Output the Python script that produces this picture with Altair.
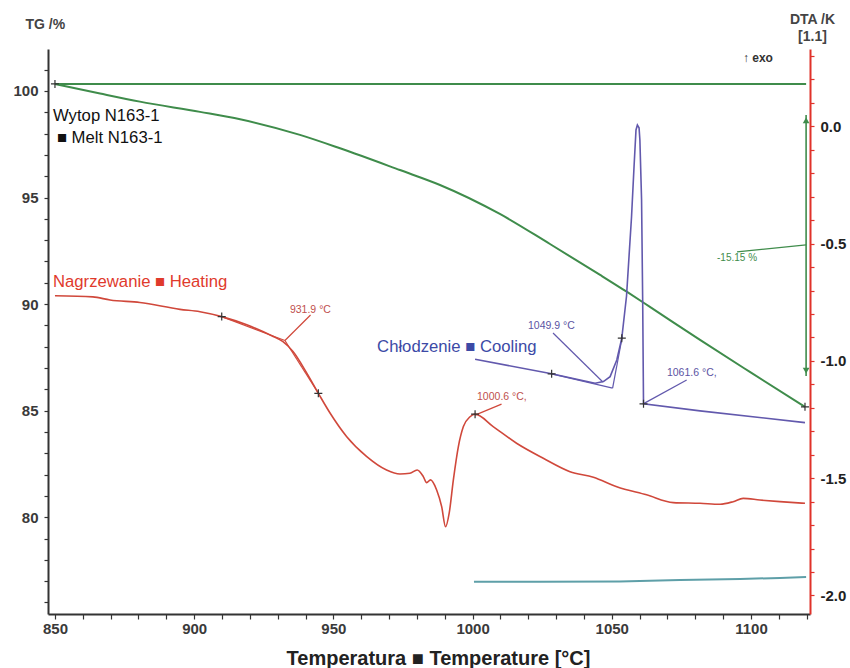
import altair as alt
import pandas as pd

# ---------------- data ----------------
# TG curve (left axis, %)
tg_T = [850.0, 866.2, 880.5, 902.1, 916.5, 938.0, 952.4, 973.9, 988.3, 1009.8,
        1027.8, 1045.8, 1055.5, 1063.7, 1081.7, 1099.6, 1119.4]
tg_val = [100.33, 99.88, 99.50, 99.02, 98.67, 97.94, 97.31, 96.29, 95.59, 94.23,
          92.82, 91.37, 90.57, 89.87, 88.32, 86.82, 85.18]

# DTA heating curve (right axis, K)
heat_T = [850.0, 863.6, 869.8, 880.5, 894.9, 902.1, 909.9, 918.9, 928.4, 931.9,
          935.5, 940.4, 944.6, 948.8, 954.8, 962.0, 969.1, 973.9, 977.5, 980.1,
          982.3, 983.5, 984.9, 987.1, 988.9, 990.3, 991.6, 993.1, 994.9, 996.7,
          999.1, 1000.9, 1007.4, 1015.8, 1025.4, 1035.0, 1043.4, 1051.8, 1062.5,
          1072.1, 1081.7, 1088.9, 1093.6, 1097.2, 1103.2, 1110.4, 1119.4]
heat_dta = [-0.722, -0.727, -0.740, -0.751, -0.780, -0.790, -0.811, -0.846, -0.896, -0.918,
            -0.960, -1.051, -1.138, -1.222, -1.323, -1.408, -1.465, -1.482, -1.479, -1.465,
            -1.493, -1.519, -1.507, -1.550, -1.621, -1.707, -1.649, -1.507, -1.365, -1.280,
            -1.238, -1.227, -1.280, -1.351, -1.415, -1.472, -1.496, -1.536, -1.571,
            -1.604, -1.607, -1.611, -1.600, -1.586, -1.593, -1.600, -1.607]

# DTA cooling curve
cool_T = [1000.9, 1028.4, 1044.0, 1047.0, 1049.4, 1051.8, 1053.6, 1055.3, 1057.1,
          1058.0, 1058.7, 1059.2, 1059.8, 1060.1, 1060.7, 1061.1, 1061.4, 1081.7, 1119.4]
cool_dta = [-0.993, -1.055, -1.095, -1.088, -1.067, -0.996, -0.903, -0.723, -0.385,
            -0.171, -0.015, 0.006, -0.006, -0.058, -0.313, -0.740, -1.183, -1.213, -1.263]

# baseline curve
base_T = [1000.5, 1024.2, 1052.9, 1074.5, 1096.1, 1110.4, 1119.8]
base_dta = [-1.942, -1.942, -1.940, -1.934, -1.930, -1.925, -1.921]

# tick values
x_ticks = list(range(850, 1121, 10))
tg_ticks = list(range(76, 102))
dta_ticks = [round(-2.0 + 0.1 * k, 1) for k in range(24)]

# annotations (temperature, value)
tg_ref_level = 100.33
tg_arrow_T = 1119.8
tg_arrow_top = 98.87
tg_arrow_bottom = 86.63
tg_loss_label = "-15.15 %"

plus_heat = [(909.9, -0.811), (944.6, -1.138), (1000.9, -1.227)]
plus_cool = [(1028.4, -1.055), (1053.6, -0.903), (1061.4, -1.183)]
plus_tg = [(850.0, 100.33), (1119.4, 85.18)]

heat_segments = [  # T1, v1, T2, v2
    (909.9, -0.811, 932.6, -0.913),
    (932.6, -0.913, 944.6, -1.138),
    (941.8, -0.804, 932.6, -0.913),
    (1010.4, -1.184, 1000.9, -1.231),
]
cool_segments = [
    (1028.4, -1.055, 1050.3, -1.116),
    (1050.3, -1.116, 1053.8, -0.895),
    (1028.9, -0.881, 1046.8, -1.090),
    (1076.9, -1.081, 1061.6, -1.181),
]
heat_labels = [(934.4, -0.795, "931.9 °C"), (1001.6, -1.166, "1000.6 °C,")]
cool_labels = [(1019.9, -0.864, "1049.9 °C"), (1069.8, -1.064, "1061.6 °C,")]

# ---------------- styling ----------------
GREEN = "#3f8c4b"
RED = "#d0483b"
RED_AXIS = "#e0322a"
RED_TXT = "#e03a2c"
BLUE = "#6259ad"
BLUE_TXT = "#3c4aa6"
TEAL = "#5e9fa8"
DARK = "#333333"
SANS = "Liberation Sans"

xs = alt.Scale(domain=[847.5, 1121.2], nice=False, zero=False)
ys_tg = alt.Scale(domain=[75.46, 101.97], nice=False, zero=False)
ys_dta = alt.Scale(domain=[-2.079, 0.330], nice=False, zero=False)

x_axis = alt.Axis(
    values=x_ticks, format="d",
    labelExpr="datum.value % 50 == 0 ? datum.label : ''",
    labelOverlap=False, labelFlush=False, grid=False,
    tickSize=5, tickColor=DARK, tickWidth=1.2,
    domainColor=DARK, domainWidth=2,
    labelFont=SANS, labelFontSize=15, labelFontWeight="bold", labelColor="#3a3a3a",
    labelPadding=2,
    title="Temperatura ■ Temperature [°C]",
    titleFont=SANS, titleFontSize=20, titleFontWeight="bold", titleColor="#222222",
    titleX=390, titleY=50, titleAlign="center", titleBaseline="alphabetic",
)
tg_axis = alt.Axis(
    orient="left", values=tg_ticks, format="d",
    labelExpr="datum.value % 5 == 0 ? datum.label : ''",
    labelOverlap=False, labelFlush=False, grid=False,
    tickSize=4, tickColor=DARK, tickWidth=1.2,
    domainColor=DARK, domainWidth=2,
    labelFont=SANS, labelFontSize=15, labelFontWeight="bold", labelColor="#3a3a3a",
    labelPadding=6,
    title="TG /%", titleFont=SANS, titleFontSize=14, titleFontWeight="bold",
    titleColor="#444444", titleAngle=0, titleX=-23, titleY=-21,
    titleAlign="left", titleBaseline="alphabetic",
)
dta_axis = alt.Axis(
    orient="right", values=dta_ticks,
    labelExpr="abs(datum.value*2 - round(datum.value*2)) < 0.01 ? replace(format(datum.value, '.1f'), '\u2212', '-') : ''",
    labelOverlap=False, labelFlush=False, grid=False,
    tickSize=4, tickColor=RED_AXIS, tickWidth=1.2,
    domainColor=RED_AXIS, domainWidth=2,
    labelFont=SANS, labelFontSize=15, labelFontWeight="bold", labelColor="#222222",
    labelPadding=6,
    title=["DTA /K", "[1.1]"], titleFont=SANS, titleFontSize=14, titleFontWeight="bold",
    titleColor="#444444", titleAngle=0, titleX=2, titleY=-37,
    titleAlign="center", titleBaseline="top", titleLineHeight=17,
)


def X():
    # identical x axis on every layer so the shared axis merges cleanly
    return alt.X("T:Q", scale=xs, axis=x_axis)


def line(T, V, color, yscale, width=1.6, yaxis=None, interp="linear"):
    df = pd.DataFrame({"T": T, "v": V, "i": list(range(len(T)))})
    return alt.Chart(df).mark_line(color=color, strokeWidth=width, interpolate=interp).encode(
        x=X(),
        y=alt.Y("v:Q", scale=yscale, axis=yaxis),
        order="i:Q",
    )


def segs(rows, color, yscale, width=1.2):
    df = pd.DataFrame(rows, columns=["T", "v", "T2", "v2"])
    return alt.Chart(df).mark_rule(color=color, strokeWidth=width).encode(
        x=X(), x2="T2:Q",
        y=alt.Y("v:Q", scale=yscale, axis=None), y2="v2:Q",
    )


def pluses(rows, yscale):
    df = pd.DataFrame(rows, columns=["T", "v"])
    return alt.Chart(df).mark_point(
        shape="M-1,0L1,0M0,-1L0,1", size=64, filled=False, color=DARK, strokeWidth=1.2, opacity=1
    ).encode(x=X(), y=alt.Y("v:Q", scale=yscale, axis=None))


def texts(rows, color, yscale, size, font=SANS, weight="normal", align="left",
          baseline="alphabetic", opacity=1.0):
    df = pd.DataFrame(rows, columns=["T", "v", "text"])
    return alt.Chart(df).mark_text(
        align=align, baseline=baseline, font=font, fontSize=size, fontWeight=weight,
        color=color, opacity=opacity,
    ).encode(x=X(), y=alt.Y("v:Q", scale=yscale, axis=None), text="text:N")


# ---------------- TG marks ----------------
tg_curve = line(tg_T, tg_val, GREEN, ys_tg, width=2, yaxis=tg_axis, interp="monotone")
tg_hline = line([tg_T[0], tg_arrow_T], [tg_ref_level, tg_ref_level], GREEN, ys_tg, width=2)
tg_arrow = line([tg_arrow_T, tg_arrow_T], [tg_arrow_top, tg_arrow_bottom], GREEN, ys_tg, width=1.6)
heads = pd.DataFrame({"T": [tg_arrow_T, tg_arrow_T], "v": [tg_arrow_top - 0.25, tg_arrow_bottom + 0.25],
                      "s": ["triangle-up", "triangle-down"]})
tg_heads = alt.Chart(heads).mark_point(filled=True, size=45, color=GREEN, opacity=1).encode(
    x=X(), y=alt.Y("v:Q", scale=ys_tg, axis=None),
    shape=alt.Shape("s:N", scale=None),
)
tg_leader = segs([(tg_arrow_T, 92.78, 1095.0, 92.45)], GREEN, ys_tg, width=1.4)
tg_label = texts([(1095.0, 92.17, tg_loss_label)], GREEN, ys_tg, 10, align="center", baseline="middle")
tg_plus = pluses(plus_tg, ys_tg)

legend_black = texts([(849.3, 98.59, "Wytop N163-1"), (850.7, 97.56, "■ Melt N163-1")],
                     "#111111", ys_tg, 16.7)
legend_red = texts([(849.3, 90.81, "Nagrzewanie ■ Heating")], RED_TXT, ys_tg, 16.7)
legend_blue = texts([(965.7, 87.76, "Chłodzenie ■ Cooling")], BLUE_TXT, ys_tg, 16.7)
exo = texts([(1097.1, 101.36, "↑ exo")], DARK, ys_tg, 12, weight="bold")

# ---------------- DTA marks ----------------
heat = line(heat_T, heat_dta, RED, ys_dta, width=1.6, yaxis=dta_axis, interp="monotone")
cool = line(cool_T, cool_dta, BLUE, ys_dta, width=1.6)
base = line(base_T, base_dta, TEAL, ys_dta, width=2)
heat_rules = segs(heat_segments, RED, ys_dta)
cool_rules = segs(cool_segments, BLUE, ys_dta)
heat_plus = pluses(plus_heat, ys_dta)
cool_plus = pluses(plus_cool, ys_dta)
heat_txt = texts(heat_labels, "#c0504d", ys_dta, 10.5)
cool_txt = texts(cool_labels, "#5b54a3", ys_dta, 10.5)

chart = (
    alt.layer(
        tg_curve, heat, tg_hline, tg_arrow, tg_heads, tg_leader, tg_label, tg_plus,
        legend_black, legend_red, legend_blue, exo,
        base, cool, heat_rules, cool_rules, heat_plus, cool_plus, heat_txt, cool_txt,
    )
    .resolve_scale(y="independent")
    .properties(
        width=762, height=565,
        autosize=alt.AutoSizeParams(type="none"),
        padding={"left": 48, "top": 49, "right": 40, "bottom": 54},
        background="white",
    )
    .configure_view(stroke=None)
)

chart.save("out.html", embed_options={"renderer": "svg", "actions": False})
